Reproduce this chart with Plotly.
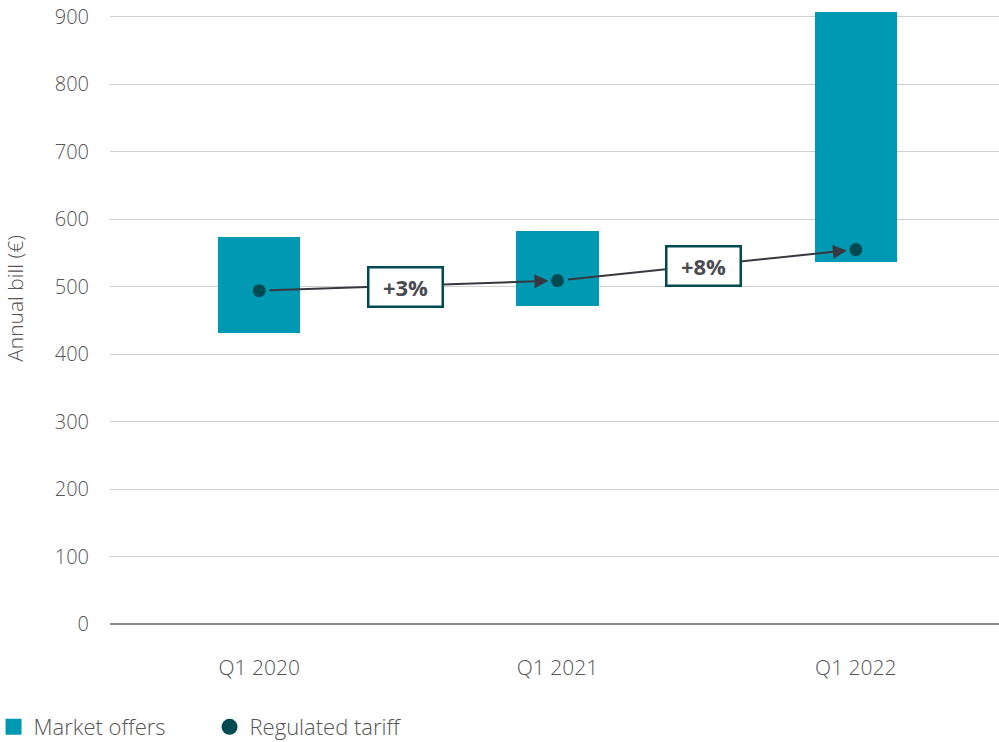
import plotly.graph_objects as go

categories = ["Q1 2020", "Q1 2021", "Q1 2022"]
market_low = [432, 472, 536]
market_high = [574, 583, 907]
regulated = [494, 509, 555]
change_labels = ["+3%", "+8%"]
y_ticks = [0, 100, 200, 300, 400, 500, 600, 700, 800, 900]

TEAL = "#0099B3"
DARK = "#004B52"
ARROW = "#383842"
TXT = "#555555"

xs = list(range(len(categories)))

fig = go.Figure()
fig.add_trace(go.Bar(
    x=xs, y=[h - l for h, l in zip(market_high, market_low)], base=market_low,
    marker=dict(color=TEAL, line=dict(width=0)), width=0.275, showlegend=False,
    name="Market offers"))
fig.add_trace(go.Scatter(
    x=xs, y=regulated, mode="markers", marker=dict(color=DARK, size=13),
    showlegend=False, name="Regulated tariff"))
# legend entries
fig.add_trace(go.Scatter(x=[None], y=[None], mode="markers", name="Market offers",
                         marker=dict(symbol="square", color=TEAL, size=22)))
fig.add_trace(go.Scatter(x=[None], y=[None], mode="markers", name="Regulated tariff",
                         marker=dict(symbol="circle", color=DARK, size=20)))

for i, lab in enumerate(change_labels):
    fig.add_annotation(x=xs[i + 1], y=regulated[i + 1], ax=xs[i], ay=regulated[i],
                       xref="x", yref="y", axref="x", ayref="y", text="",
                       showarrow=True, arrowhead=2, arrowsize=1.4, arrowwidth=2,
                       arrowcolor=ARROW, standoff=9, startstandoff=9)
    fig.add_annotation(x=(xs[i] + xs[i + 1]) / 2 - 0.01, y=(regulated[i] + regulated[i + 1]) / 2 - 2,
                       xref="x", yref="y", text="<b>%s</b>" % lab, showarrow=False,
                       font=dict(family="Open Sans", size=22, color="#4a4a52"),
                       bgcolor="white", bordercolor=DARK, borderwidth=2.5,
                       borderpad=4, width=64, height=29)

# y-axis title
fig.add_annotation(x=-0.107, y=0.531, xref="paper", yref="paper", text="Annual bill (€)",
                   textangle=-90, showarrow=False, xanchor="center", yanchor="middle",
                   font=dict(family="Open Sans", size=21, color=TXT, weight=300))

fig.update_layout(
    width=999, height=742, paper_bgcolor="white", plot_bgcolor="white",
    margin=dict(l=110, r=0, t=10, b=118, autoexpand=False),
    font=dict(family="Open Sans", color=TXT),
    bargap=0,
    xaxis=dict(range=[-0.5, 2.48], tickvals=xs, ticktext=categories,
               showgrid=False, showline=False, zeroline=False,
               tickfont=dict(size=21, color=TXT, weight=300), ticks="", ticklabelstandoff=29),
    yaxis=dict(range=[0, 910], tickvals=y_ticks, showgrid=True, gridcolor="#cfcfcf",
               gridwidth=1, zeroline=True, zerolinecolor="#8a8a8a", zerolinewidth=1.5,
               tickfont=dict(size=20, color=TXT, weight=300), ticks="", ticklabelstandoff=20),
    legend=dict(orientation="h", xref="paper", yref="paper", x=-0.131, y=-0.202,
                xanchor="left", yanchor="bottom", font=dict(size=22, color=TXT, weight=300),
                itemsizing="trace", tracegroupgap=0, entrywidth=171),
)

fig.write_html("out.html")
